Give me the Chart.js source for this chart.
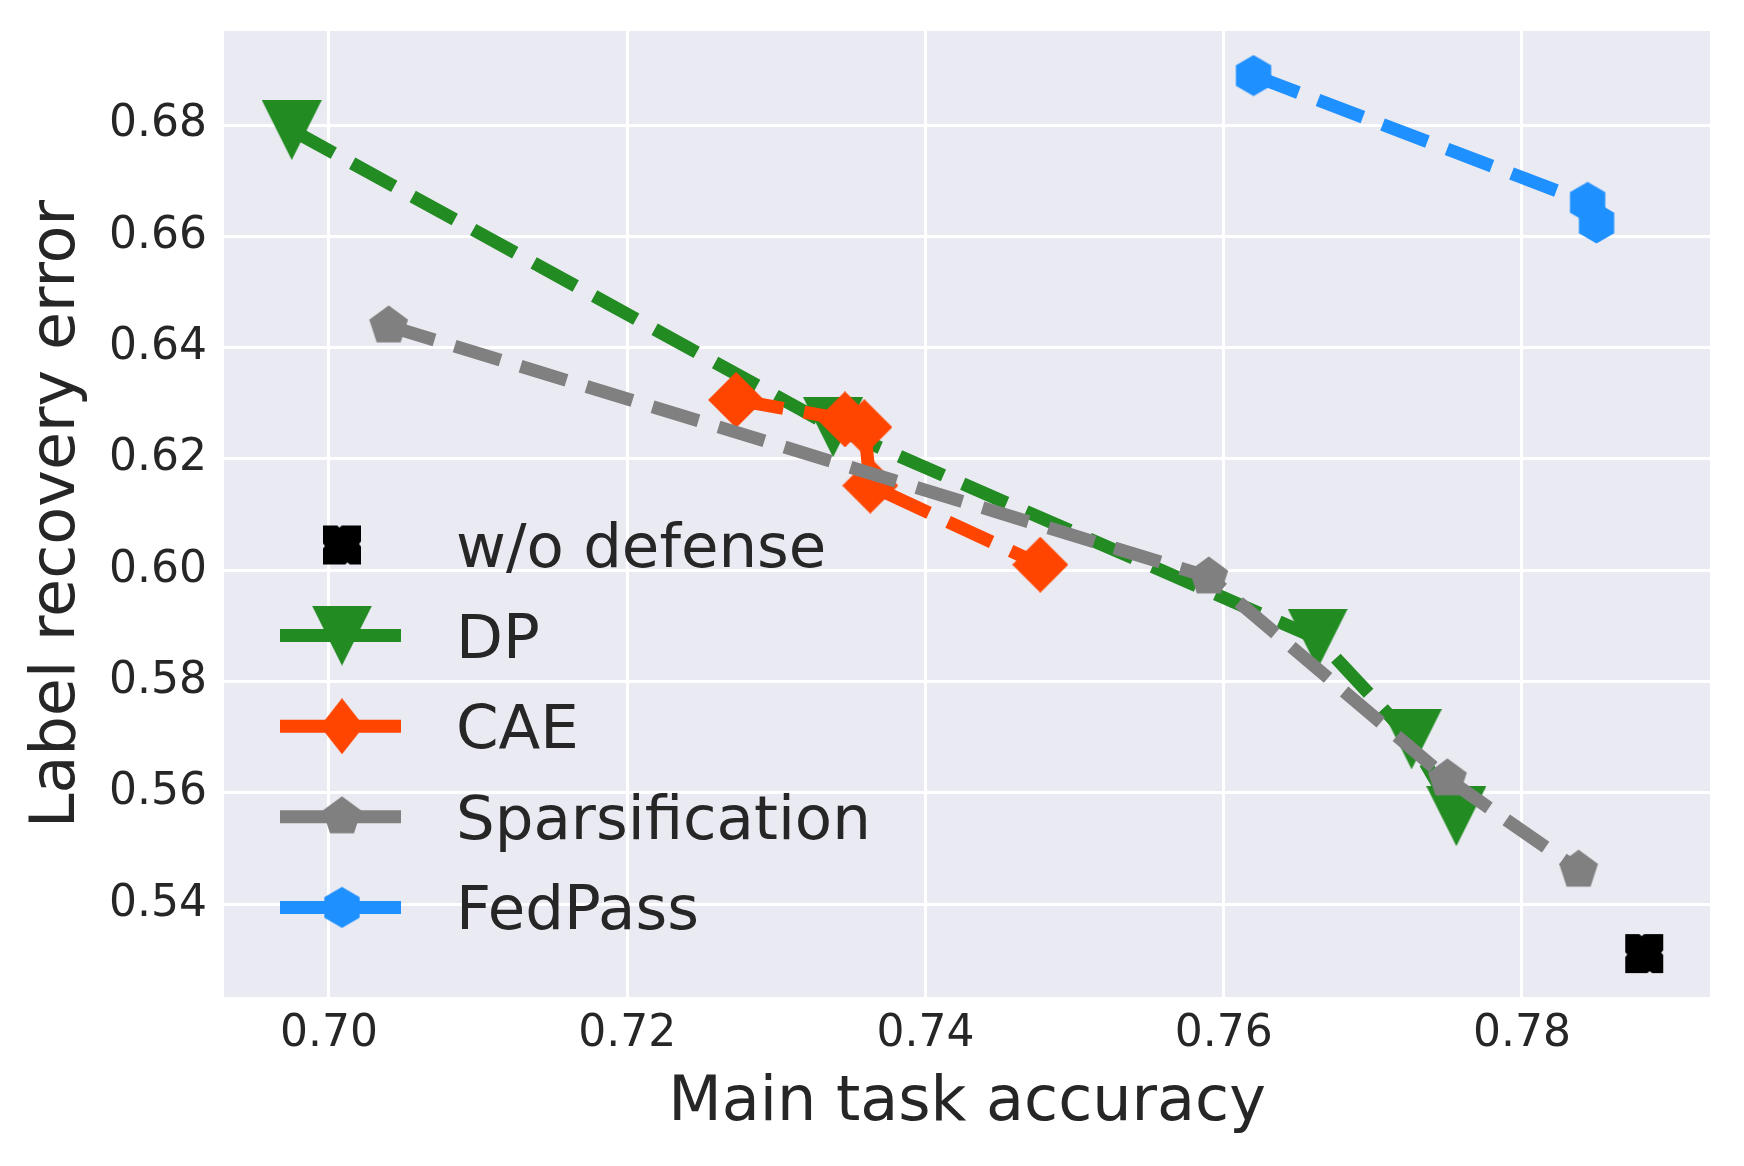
<!DOCTYPE html>
<html>
<head>
<meta charset="utf-8">
<script src="https://cdn.jsdelivr.net/npm/chart.js@4.4.1/dist/chart.umd.min.js"></script>
<style>
  html, body { margin: 0; padding: 0; background: #ffffff; }
  #c { display: block; }
</style>
</head>
<body>
<canvas id="c" width="1744" height="1166"></canvas>
<script>
// ---------------- data ----------------
const seriesNames = ['w/o defense', 'DP', 'CAE', 'Sparsification', 'FedPass'];

const woX = [0.7882];
const woY = [0.5311];

const dpX = [0.6975, 0.7338, 0.7663, 0.7726, 0.7756];
const dpY = [0.6791, 0.6257, 0.5877, 0.5696, 0.5558];

const caeX = [0.7273, 0.7346, 0.7359, 0.7363, 0.7477];
const caeY = [0.6306, 0.6271, 0.6257, 0.6152, 0.6010];

const spX = [0.7040, 0.7590, 0.7750, 0.7838];
const spY = [0.6439, 0.5988, 0.5625, 0.5461];

const fpX = [0.7620, 0.7844, 0.7850];
const fpY = [0.6889, 0.6661, 0.6624];

const xTickValues = [0.70, 0.72, 0.74, 0.76, 0.78];
const yTickValues = [0.54, 0.56, 0.58, 0.60, 0.62, 0.64, 0.66, 0.68];

const xRange = [0.69296, 0.79261];
const yRange = [0.5233, 0.6969];

// ---------------- styling ----------------
const colors = {
  wo: '#000000',
  dp: '#228B22',
  cae: '#FF4500',
  sp: '#808080',
  fp: '#1E90FF'
};
const textColor = '#262626';
const FONT = "'DejaVu Sans', 'Liberation Sans', sans-serif";

function makeMarker(w, h, color, pathFn) {
  const c = document.createElement('canvas');
  c.width = w; c.height = h;
  const g = c.getContext('2d');
  g.fillStyle = color;
  g.beginPath();
  pathFn(g, w, h);
  g.closePath();
  g.fill();
  return c;
}
function regularPolygon(g, cx, cy, r, n) {
  for (let k = 0; k < n; k++) {
    const a = -Math.PI / 2 + k * 2 * Math.PI / n;
    const px = cx + r * Math.cos(a), py = cy + r * Math.sin(a);
    if (k === 0) g.moveTo(px, py); else g.lineTo(px, py);
  }
}

const mkTri = makeMarker(60, 60, colors.dp, (g, w, h) => {
  g.moveTo(0, 0); g.lineTo(w, 0); g.lineTo(w / 2, h);
});
const mkDiamond = makeMarker(56, 56, colors.cae, (g, w, h) => {
  g.moveTo(w / 2, 0); g.lineTo(w, h / 2); g.lineTo(w / 2, h); g.lineTo(0, h / 2);
});
const mkDiamondLegend = makeMarker(44, 56, colors.cae, (g, w, h) => {
  g.moveTo(w / 2, 0); g.lineTo(w, h / 2); g.lineTo(w / 2, h); g.lineTo(0, h / 2);
});
const mkPent = makeMarker(42, 42, colors.sp, (g) => regularPolygon(g, 21, 21, 20.4, 5));
const mkHex = makeMarker(42, 42, colors.fp, (g) => regularPolygon(g, 21, 21, 20.4, 6));
const mkWo = makeMarker(40, 41, colors.wo, (g, w, h) => {
  // square with small notches on each side (overlapping X markers)
  g.moveTo(1, 1);
  g.lineTo(15, 1); g.lineTo(17.5, 3); g.lineTo(20, 1);
  g.lineTo(39, 1);
  g.lineTo(39, 17); g.lineTo(37, 19.5); g.lineTo(39, 22);
  g.lineTo(39, 40);
  g.lineTo(28, 40); g.lineTo(25.5, 38); g.lineTo(23, 40);
  g.lineTo(1, 40);
  g.lineTo(1, 24); g.lineTo(3, 21.5); g.lineTo(1, 19);
});

function pts(xs, ys) { return xs.map((x, i) => ({ x: x, y: ys[i] })); }

const LW = 13;
const DASH = [48, 21];

function lineDataset(label, xs, ys, color, marker, order) {
  return {
    label: label,
    data: pts(xs, ys),
    showLine: true,
    borderColor: color,
    backgroundColor: color,
    borderWidth: LW,
    borderDash: DASH,
    borderCapStyle: 'butt',
    borderJoinStyle: 'miter',
    tension: 0,
    fill: false,
    pointStyle: marker,
    pointRadius: 20,
    pointHoverRadius: 20,
    pointBorderWidth: 0,
    order: order,
    clip: false
  };
}

const datasets = [
  {
    label: seriesNames[0],
    data: pts(woX, woY),
    showLine: false,
    borderColor: colors.wo,
    backgroundColor: colors.wo,
    pointStyle: mkWo,
    pointRadius: 20,
    pointHoverRadius: 20,
    order: 5,
    clip: false
  },
  lineDataset(seriesNames[1], dpX, dpY, colors.dp, mkTri, 4),
  lineDataset(seriesNames[2], caeX, caeY, colors.cae, mkDiamond, 3),
  lineDataset(seriesNames[3], spX, spY, colors.sp, mkPent, 2),
  lineDataset(seriesNames[4], fpX, fpY, colors.fp, mkHex, 1)
];

// plot background
const bgPlugin = {
  id: 'plotBg',
  beforeDraw(chart) {
    const { ctx, chartArea: a } = chart;
    ctx.save();
    ctx.fillStyle = '#ffffff';
    ctx.fillRect(0, 0, chart.width, chart.height);
    ctx.fillStyle = '#EAEAF2';
    ctx.fillRect(a.left, a.top, a.right - a.left, a.bottom - a.top);
    ctx.restore();
  }
};

// legend drawn inside the plot area (matplotlib style: line + marker handles)
const legendPlugin = {
  id: 'mplLegend',
  afterDatasetsDraw(chart) {
    const { ctx, chartArea: a } = chart;
    const rows = [
      { name: seriesNames[0], color: colors.wo, marker: mkWo, line: false },
      { name: seriesNames[1], color: colors.dp, marker: mkTri, line: true },
      { name: seriesNames[2], color: colors.cae, marker: mkDiamondLegend, line: true },
      { name: seriesNames[3], color: colors.sp, marker: mkPent, line: true },
      { name: seriesNames[4], color: colors.fp, marker: mkHex, line: true }
    ];
    const x1 = a.left + 56, x2 = a.left + 177, mx = a.left + 118;
    const tx = a.left + 232;
    const y0 = a.top + 514, dy = 90.6;
    ctx.save();
    rows.forEach((r, i) => {
      const y = y0 + i * dy;
      if (r.line) {
        ctx.strokeStyle = r.color;
        ctx.lineWidth = LW;
        ctx.lineCap = 'butt';
        ctx.setLineDash([]);
        ctx.beginPath();
        ctx.moveTo(x1, y);
        ctx.lineTo(x2, y);
        ctx.stroke();
      }
      ctx.drawImage(r.marker, mx - r.marker.width / 2, y - r.marker.height / 2);
      ctx.fillStyle = textColor;
      ctx.font = '61px ' + FONT;
      ctx.textAlign = 'left';
      ctx.textBaseline = 'alphabetic';
      ctx.fillText(r.name, tx, y + 22);
    });
    ctx.restore();
  }
};

Chart.defaults.font.family = FONT;
Chart.defaults.color = textColor;

new Chart(document.getElementById('c'), {
  type: 'scatter',
  data: { datasets: datasets },
  plugins: [bgPlugin, legendPlugin],
  options: {
    responsive: false,
    devicePixelRatio: 1,
    animation: false,
    events: [],
    layout: { padding: { top: 31, right: 34, left: 0, bottom: 0 } },
    plugins: {
      legend: { display: false },
      tooltip: { enabled: false },
      title: { display: false }
    },
    scales: {
      x: {
        type: 'linear',
        min: xRange[0],
        max: xRange[1],
        afterFit(s) { s.height = 169; s.paddingLeft = 0; s.paddingRight = 0; },
        afterBuildTicks(s) { s.ticks = xTickValues.map(v => ({ value: v })); },
        grid: { color: '#ffffff', lineWidth: 3, drawTicks: false },
        border: { display: false },
        ticks: {
          autoSkip: false,
          maxRotation: 0,
          padding: 11,
          color: textColor,
          font: { size: 44, family: FONT },
          callback: (v) => Number(v).toFixed(2)
        },
        title: {
          display: true,
          text: 'Main task accuracy',
          color: textColor,
          font: { size: 62, family: FONT, lineHeight: 1 },
          padding: { top: 0, bottom: 31 }
        }
      },
      y: {
        type: 'linear',
        min: yRange[0],
        max: yRange[1],
        afterFit(s) { s.width = 224; s.paddingTop = 0; s.paddingBottom = 0; },
        afterBuildTicks(s) { s.ticks = yTickValues.map(v => ({ value: v })); },
        grid: { color: '#ffffff', lineWidth: 3, drawTicks: false },
        border: { display: false },
        ticks: {
          autoSkip: false,
          padding: 17,
          color: textColor,
          font: { size: 44, family: FONT },
          callback: (v) => Number(v).toFixed(2)
        },
        title: {
          display: true,
          text: 'Label recovery error',
          color: textColor,
          font: { size: 62, family: FONT, lineHeight: 1 },
          padding: { top: 27, bottom: 0 }
        }
      }
    }
  }
});
</script>
</body>
</html>
